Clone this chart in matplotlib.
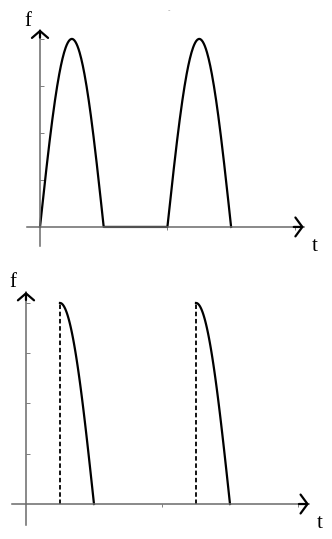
import matplotlib.pyplot as plt
import numpy as np

# half-wave pulses, time in units of one half-period
hump_start = [0.0, 2.0]
hump_end = [1.0, 3.0]
fire_at = [0.5, 2.5]       # firing instant for the lower (controlled) wave
amplitude = 1.0
y_ticks = [0.25, 0.5, 0.75, 1.0]
x_ticks = [2.0, 4.0]

AXIS_COL = '#6a6a6a'
SERIF = 'Liberation Serif'

fig = plt.figure(figsize=(3.32, 5.39), dpi=100)
ax1 = fig.add_axes([0, 269 / 539, 1, 270 / 539])
ax2 = fig.add_axes([0, 0, 1, 269 / 539])


def setup_axes(ax, xlim, ylim, ybounds, xbounds, hw_y, hw_x):
    ax.set_xlim(*xlim)
    ax.set_ylim(*ylim)
    ax.patch.set_alpha(0)
    for s in ('top', 'right'):
        ax.spines[s].set_visible(False)
    for s in ('left', 'bottom'):
        ax.spines[s].set_position(('data', 0))
        ax.spines[s].set_color(AXIS_COL)
        ax.spines[s].set_linewidth(1.1)
    ax.spines['left'].set_bounds(*ybounds)
    ax.spines['bottom'].set_bounds(*xbounds)
    ax.set_yticks(y_ticks)
    ax.set_xticks(x_ticks)
    ax.tick_params(axis='y', direction='in', length=3, width=0.6, color=AXIS_COL, labelleft=False)
    ax.tick_params(axis='x', direction='out', length=2, width=0.6, color=AXIS_COL, labelbottom=False)
    # open arrowheads
    ytop = ybounds[1]
    xend = xbounds[1]
    dy = (ylim[1] - ylim[0]) * 0.03
    dx = (xlim[1] - xlim[0]) * 0.03
    ax.annotate('', xy=(0, ytop), xytext=(0, ytop - dy),
                arrowprops=dict(arrowstyle=f'->,head_length=0.5,head_width={hw_y}',
                                color='black', lw=1.6, shrinkA=0, shrinkB=0,
                                mutation_scale=10))
    ax.annotate('', xy=(xend, 0), xytext=(xend - dx, 0),
                arrowprops=dict(arrowstyle=f'->,head_length=0.5,head_width={hw_x}',
                                color='black', lw=1.6, shrinkA=0, shrinkB=0,
                                mutation_scale=10))


# ---- top: full half-wave rectified signal ----
setup_axes(ax1, (-0.628, 4.584), (-0.229, 1.207), (-0.10, 1.05), (-0.2, 4.14), 0.58, 0.68)
t_all = []
f_all = []
for a, b in zip(hump_start, hump_end):
    t = np.linspace(a, b, 120)
    t_all.append(t)
    f_all.append(amplitude * np.sin(np.pi * (t - a) / (b - a)))
t_full = np.concatenate(t_all)
f_full = np.concatenate(f_all)
ax1.plot(t_full, f_full, color='black', lw=1.6, solid_joinstyle='round')
ax1.text(-0.19, 1.095, 'f', family=SERIF, fontsize=15, ha='center', va='center')
ax1.text(4.31, -0.105, 't', family=SERIF, fontsize=15, ha='center', va='center')
ax1.text(2.02, 1.15, '-', color='#999999', fontsize=5, ha='center', va='center')

# ---- bottom: phase-controlled pulses ----
setup_axes(ax2, (-0.382, 4.5), (-0.174, 1.164), (-0.104, 1.055), (-0.2, 4.16), 0.58, 0.68)
for a, b, fa in zip(hump_start, hump_end, fire_at):
    t = np.linspace(fa, b, 100)
    f = amplitude * np.sin(np.pi * (t - a) / (b - a))
    ax2.plot(t, f, color='black', lw=1.6)
    ax2.plot([fa, fa], [0, f[0]], color='black', lw=1.3, linestyle=(0, (2.5, 1.5)))
ax2.text(-0.19, 1.102, 'f', family=SERIF, fontsize=15, ha='center', va='center')
ax2.text(4.32, -0.095, 't', family=SERIF, fontsize=15, ha='center', va='center')

fig.savefig('out.png', dpi=100)
